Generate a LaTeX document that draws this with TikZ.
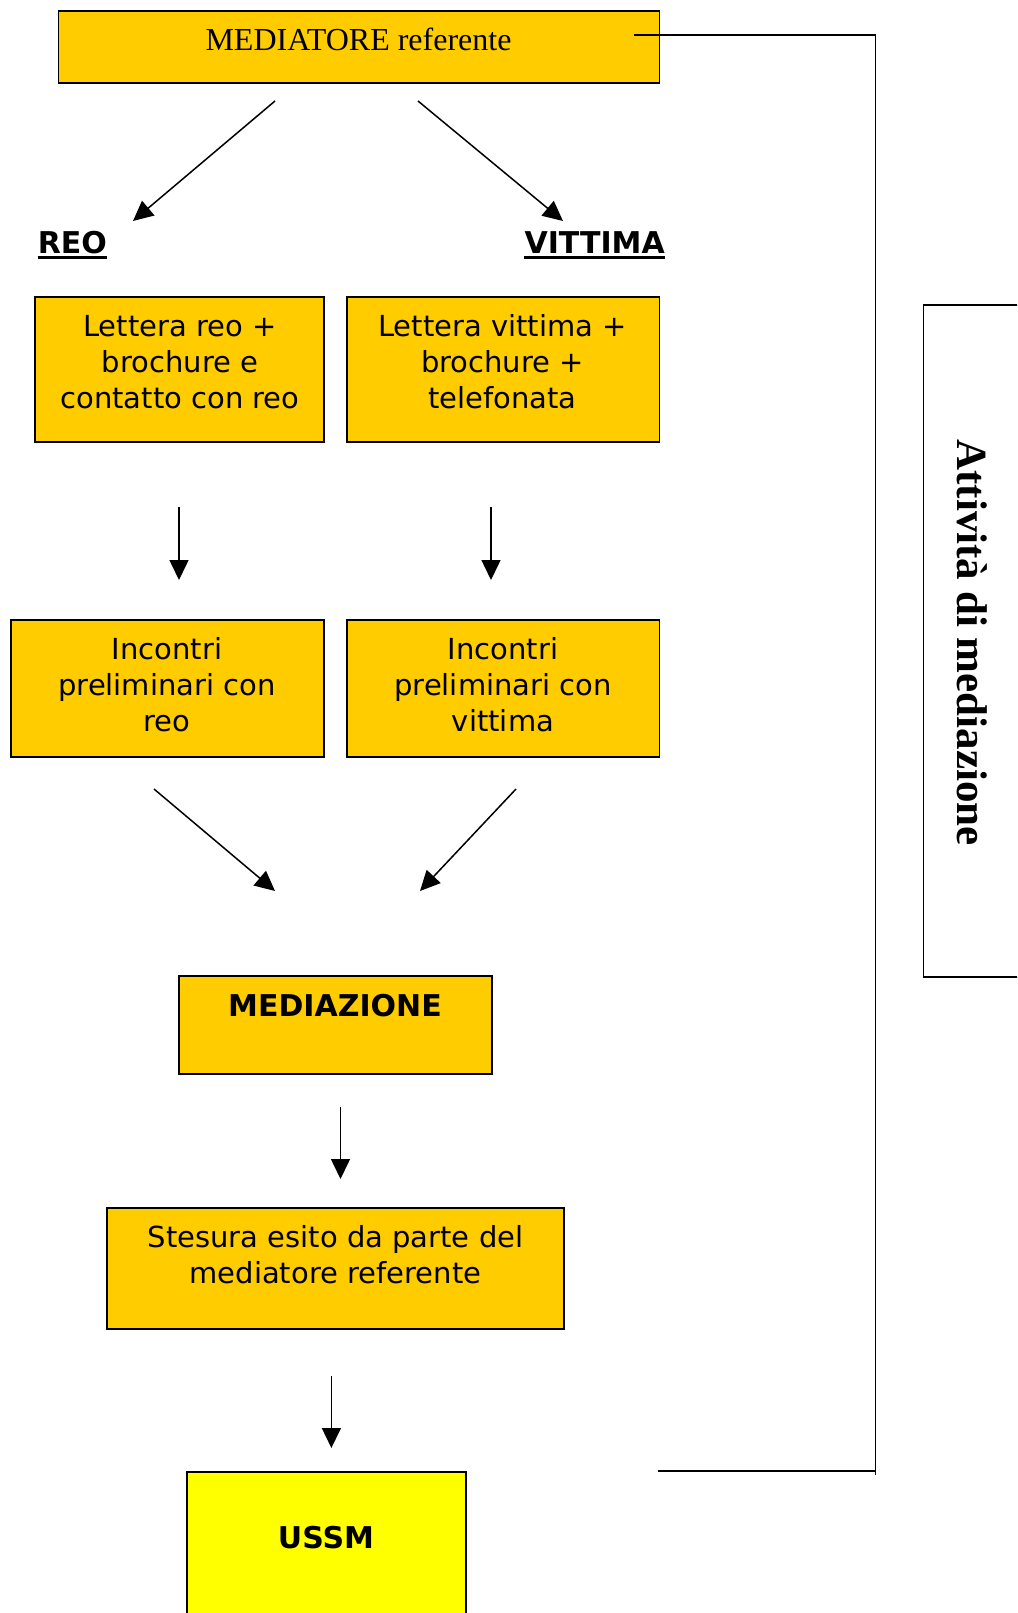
\documentclass[tikz,border=0pt]{standalone}
\usepackage{fontspec}
\setmainfont{Liberation Serif}
\newfontfamily\verd{DejaVu Sans}
\usetikzlibrary{arrows.meta}
\definecolor{boxor}{HTML}{FFCC00}
\definecolor{boxye}{HTML}{FFFF00}
\begin{document}
\begin{tikzpicture}[x=1pt,y=-1pt,
  boxst/.style={draw=black, line width=1.9pt, fill=boxor, inner sep=0pt, outer sep=0pt, anchor=north west},
  txt/.style={font=\verd\fontsize{29}{35.7}\selectfont, align=center, inner sep=0pt, anchor=base},
  btxt/.style={font=\verd\bfseries\fontsize{30}{35.7}\selectfont, align=center, inner sep=0pt, anchor=base},
  conn/.style={line width=1.5pt, -{Triangle[length=20pt,width=19pt]}},
  frame/.style={line width=1.7pt}]
\clip (0,0) rectangle (1017,1613);
\fill[white] (0,0) rectangle (1017,1613);
% top box
\node[boxst, minimum width=601pt, minimum height=72pt] (med) at (58.5,11) {};
\node[font=\fontsize{32}{38}\selectfont, inner sep=0pt, anchor=base] (medt) at (358.5,50.7) {MEDIATORE referente};
% REO / VITTIMA labels
\node[btxt, anchor=base west] (reo) at (37.6,254) {REO};
\node[btxt, anchor=base east] (vit) at (665,254) {VITTIMA};
\draw[line width=3pt] ([yshift=-3.5pt]reo.base west) -- ([yshift=-3.5pt]reo.base east);
\draw[line width=3pt] ([yshift=-3.5pt]vit.base west) -- ([yshift=-3.5pt]vit.base east);
% letter boxes
\node[boxst, minimum width=288.6pt, minimum height=145pt] (lr) at (35,297.3) {};
\node[txt] (lrt) at (180,408.1) {Lettera reo +\\brochure e\\contatto con reo};
\node[boxst, minimum width=312.5pt, minimum height=145pt] (lv) at (347,297.3) {};
\node[txt] (lvt) at (502.5,408.1) {Lettera vittima +\\brochure +\\telefonata};
% incontri boxes
\node[boxst, minimum width=312.6pt, minimum height=137pt] (ir) at (11,619.7) {};
\node[txt] (irt) at (167,731.1) {Incontri\\preliminari con\\reo};
\node[boxst, minimum width=312.5pt, minimum height=137pt] (iv) at (347,619.7) {};
\node[txt] (ivt) at (503,731.1) {Incontri\\preliminari con\\vittima};
% mediazione
\node[boxst, minimum width=312.6pt, minimum height=97.3pt] (mz) at (179,976.4) {};
\node[btxt] (mzt) at (335,1016.7) {MEDIAZIONE};
% stesura
\node[boxst, minimum width=456.6pt, minimum height=121pt] (st) at (107,1208) {};
\node[txt] (stt) at (335.5,1283.4) {Stesura esito da parte del\\mediatore referente};
% USSM
\node[boxst, fill=boxye, minimum width=278.8pt, minimum height=200pt] (us) at (186.8,1471.8) {};
\node[btxt] (ust) at (326,1548.7) {USSM};
% side box
\draw[frame] (1040,305) -- (923.4,305) -- (923.4,977) -- (1040,977);
\node[font=\bfseries\fontsize{43}{50}\selectfont, rotate=-90, inner sep=0pt, anchor=base] (att) at (957.3,642.5) {Attività di mediazione};
% bracket
\coordinate (bt0) at (634,35);
\coordinate (bt1) at (875.5,35);
\coordinate (bb0) at (658,1471);
\coordinate (bb1) at (875.5,1471);
\coordinate (bb2) at (875.5,1474.5);
\draw[frame] (bt0) -- (bt1) -- (bb2);
\draw[frame] (bb0) -- (bb1);
% arrows
\coordinate (a1s) at (275,101); \coordinate (a1e) at (133,221);
\coordinate (a2s) at (418,101); \coordinate (a2e) at (563,221);
\coordinate (a3s) at (179,507); \coordinate (a3e) at (179,580);
\coordinate (a4s) at (491,507); \coordinate (a4e) at (491,580);
\coordinate (a5s) at (154,789); \coordinate (a5e) at (275,891);
\coordinate (a6s) at (516,789); \coordinate (a6e) at (420,891);
\coordinate (a7s) at (340.5,1107); \coordinate (a7e) at (340.5,1179);
\coordinate (a8s) at (331.4,1376); \coordinate (a8e) at (331.4,1448);
\draw[conn] (a1s) -- (a1e);
\draw[conn] (a2s) -- (a2e);
\draw[conn] (a3s) -- (a3e);
\draw[conn] (a4s) -- (a4e);
\draw[conn] (a5s) -- (a5e);
\draw[conn] (a6s) -- (a6e);
\draw[conn] (a7s) -- (a7e);
\draw[conn] (a8s) -- (a8e);
\end{tikzpicture}
\end{document}
